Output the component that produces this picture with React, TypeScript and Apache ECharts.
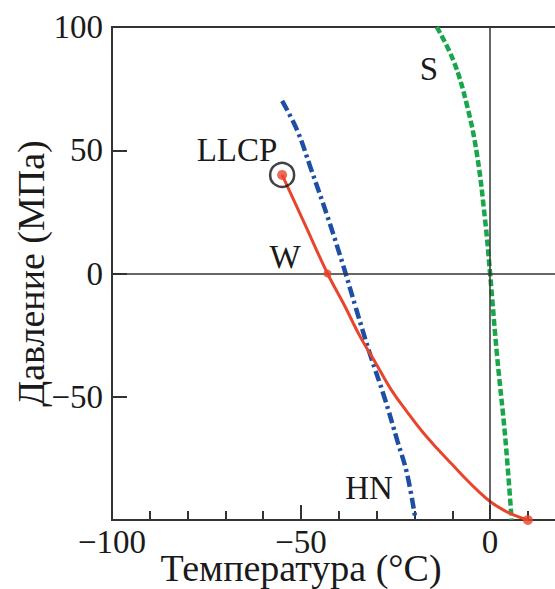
import React, { useEffect, useRef } from "react";
import * as echarts from "echarts";

// Liquid–liquid transition line (W), from LLCP down to the end point
const redLine: number[][] = [
  [-55, 40], [-49, 20], [-43, 0], [-38.5, -13], [-34.4, -25.5], [-30, -37],
  [-26, -47.5], [-22, -56], [-18, -64], [-14, -71], [-10, -77.5], [-6, -84],
  [-3, -88.5], [0, -92.5], [3, -95.5], [6, -97.8], [10, -100],
];
// Homogeneous nucleation line (HN)
const blueLine: number[][] = [
  [-55, 70], [-51, 58], [-47.5, 43], [-43.2, 24], [-38.8, 3], [-35.5, -14],
  [-31.7, -33], [-28, -50], [-24.5, -68], [-22, -81], [-19.7, -100],
];
// Melting line (S)
const greenLine: number[][] = [
  [-14.1, 100], [-9.7, 86.4], [-6.2, 68.8], [-3.5, 48.6], [-1.3, 21.5],
  [0, 0], [1.8, -32.6], [4, -66.4], [5.7, -100],
];
const llcpPoint: number[][] = [[-55, 40]];
const wPoint: number[][] = [[-43, 0]];
const endPoint: number[][] = [[10, -100]];

const xTitle = "Температура (°C)";
const yTitle = "Давление (МПа)";
const labelTexts = { llcp: "LLCP", w: "W", s: "S", hn: "HN" };

const SERIF = "'Liberation Serif', 'Times New Roman', 'DejaVu Serif', serif";
const fmt = (v: number) => (v < 0 ? "\u2212" + Math.abs(v) : String(v));

export default function App() {
  const ref = useRef<HTMLDivElement>(null);
  useEffect(() => {
    if (!ref.current) return;
    const chart = echarts.init(ref.current, undefined, { renderer: "svg" });
    const axisColor = "#333";
    const txt = "#1a1a1a";
    const xMin = -100;
    const xMax = 17.7;
    const textStyle = (t: string, x: number, y: number) => ({
      type: "text",
      x,
      y,
      style: {
        text: t,
        font: `33px ${SERIF}`,
        fill: txt,
        textAlign: "center",
        textVerticalAlign: "middle",
        align: "center",
        verticalAlign: "middle",
      },
    });
    chart.setOption({
      animation: false,
      backgroundColor: "#fff",
      grid: {
        left: 112,
        top: 27,
        right: -2,
        height: 493,
        outerBoundsMode: "none",
        containLabel: false,
        show: true,
        borderColor: axisColor,
        borderWidth: 2,
        backgroundColor: "transparent",
      },
      xAxis: [
        {
          type: "value",
          min: xMin,
          max: xMax,
          interval: 10,
          name: xTitle,
          nameLocation: "middle",
          nameGap: 34,
          nameMoveOverlap: false,
          nameTextStyle: {
            fontFamily: SERIF,
            fontSize: 38,
            lineHeight: 28,
            color: txt,
            padding: [0, 67, 0, 0],
          },
          axisLine: { show: true, onZero: false, lineStyle: { color: axisColor, width: 2 } },
          axisTick: { show: true, inside: true, length: 9, lineStyle: { color: axisColor, width: 2 } },
          splitLine: { show: false },
          axisLabel: {
            fontFamily: SERIF,
            fontSize: 33,
            lineHeight: 22,
            color: txt,
            margin: 11,
            showMaxLabel: false,
            formatter: (v: number) => (Math.abs(v % 50) < 1e-6 && v <= 0 ? fmt(v) : ""),
          },
        },
        {
          type: "value",
          position: "bottom",
          min: xMin,
          max: xMax,
          interval: 50,
          axisLine: { show: false, onZero: false },
          axisTick: { show: true, inside: true, length: 15, lineStyle: { color: axisColor, width: 2 } },
          splitLine: { show: false },
          axisLabel: { show: false },
        },
      ],
      yAxis: {
        type: "value",
        min: -100,
        max: 100,
        interval: 50,
        name: yTitle,
        nameLocation: "middle",
        nameGap: 62,
        nameRotate: 90,
        nameMoveOverlap: false,
        nameTextStyle: { fontFamily: SERIF, fontSize: 38, color: txt },
        axisLine: { show: true, onZero: false, lineStyle: { color: axisColor, width: 2 } },
        axisTick: { show: true, inside: true, length: 15, lineStyle: { color: axisColor, width: 2 } },
        splitLine: { show: false },
        axisLabel: {
          fontFamily: SERIF,
          fontSize: 33,
          color: txt,
          margin: 9,
          formatter: (v: number) => (v === -100 ? "" : fmt(v)),
        },
      },
      series: [
        {
          type: "line",
          data: [[0, 0]],
          symbol: "none",
          lineStyle: { width: 0 },
          z: 1,
          silent: true,
          markLine: {
            silent: true,
            symbol: ["none", "none"],
            label: { show: false },
            lineStyle: { color: axisColor, width: 1.5, type: "solid" },
            data: [{ xAxis: 0 }, { yAxis: 0 }],
          },
        },
        {
          type: "line",
          data: greenLine,
          smooth: 0.4,
          symbol: "none",
          lineStyle: { color: "#19a64b", width: 4.5, type: [7, 3] },
          z: 3,
        },
        {
          type: "line",
          data: blueLine,
          smooth: 0.4,
          symbol: "none",
          lineStyle: { color: "#1e4fa3", width: 4.5, type: [11, 4, 3, 4] },
          z: 3,
        },
        {
          type: "line",
          data: redLine,
          smooth: 0.4,
          symbol: "none",
          lineStyle: { color: "#e8452c", width: 3 },
          z: 4,
        },
        {
          type: "scatter",
          data: llcpPoint,
          symbol: "circle",
          symbolSize: 24,
          itemStyle: { color: "rgba(0,0,0,0)", borderColor: "#111", borderWidth: 2.5 },
          z: 5,
        },
        {
          type: "scatter",
          data: [...llcpPoint, ...endPoint],
          symbol: "circle",
          symbolSize: 10,
          itemStyle: { color: "#e8452c" },
          z: 6,
        },
        {
          type: "scatter",
          data: wPoint,
          symbol: "circle",
          symbolSize: 8,
          itemStyle: { color: "#e8452c" },
          z: 6,
        },
      ],
      graphic: [
        textStyle(labelTexts.llcp, 237, 150),
        textStyle(labelTexts.w, 285, 257),
        textStyle(labelTexts.s, 429, 69),
        textStyle(labelTexts.hn, 369, 488),
      ],
    });
    return () => chart.dispose();
  }, []);
  return (
    <div
      ref={ref}
      style={{ position: "fixed", left: 0, top: 0, width: 555, height: 589, background: "#fff" }}
    />
  );
}
